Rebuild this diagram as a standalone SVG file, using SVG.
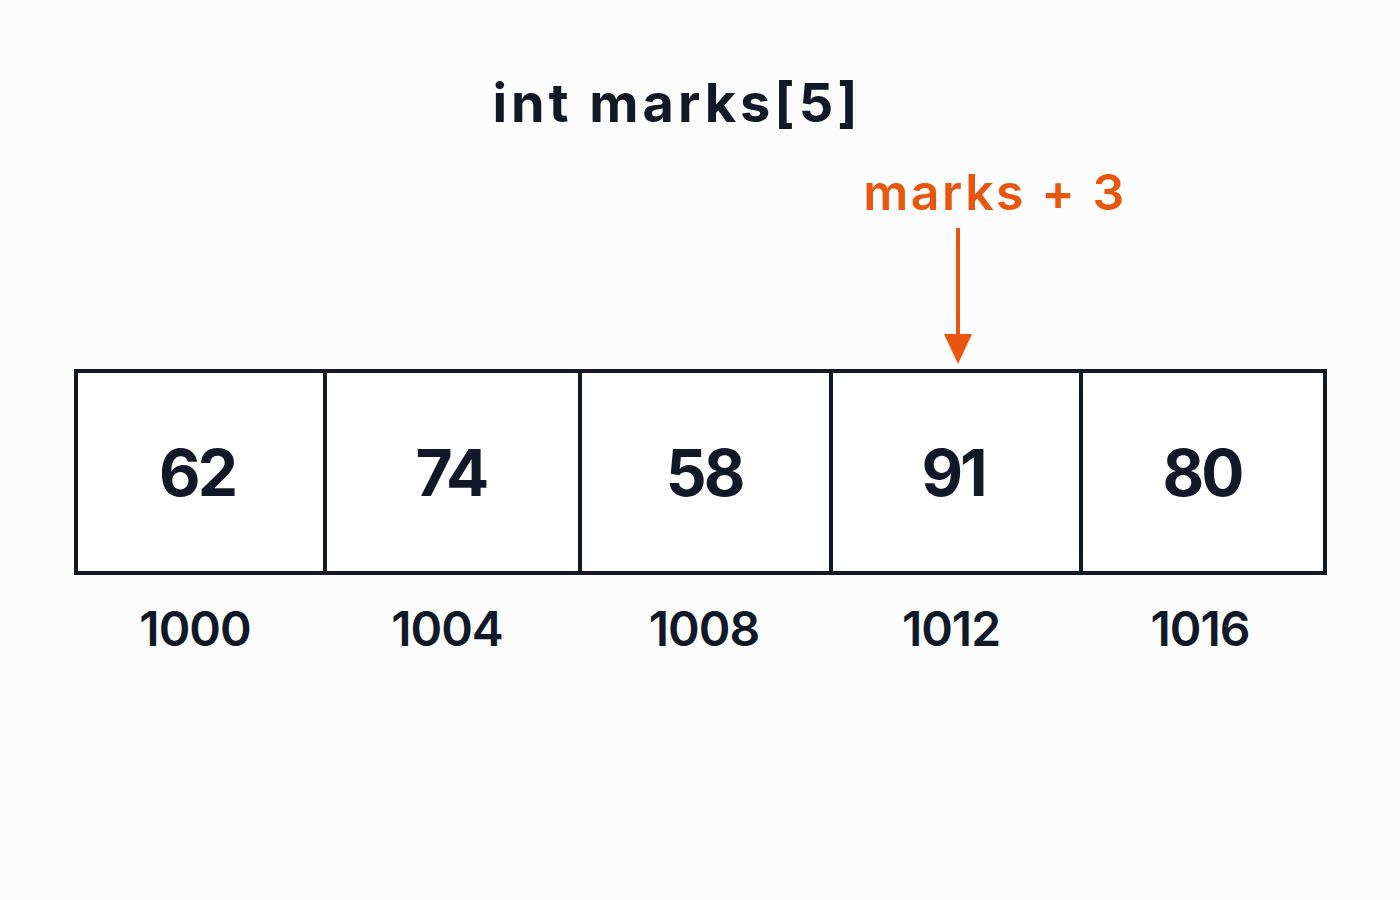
<svg xmlns="http://www.w3.org/2000/svg" width="1400" height="900" viewBox="0 0 1400 900">
<style>
.t{font-family:Inter,"Liberation Sans",sans-serif;fill:#111827;text-anchor:middle}
.title{font-size:54px;font-weight:700;letter-spacing:4px}
.val{font-size:64px;font-weight:700;letter-spacing:-3px}
.addr{font-size:48px;font-weight:600;letter-spacing:-1px}
.ptr{font-family:Inter,"Liberation Sans",sans-serif;fill:#E8560F;font-size:50px;font-weight:600;text-anchor:middle;letter-spacing:2.5px}
.cell{fill:#ffffff;stroke:#111827;stroke-width:4}
.arrow{stroke:#E8560F;stroke-width:4}
</style>
<rect width="1400" height="900" fill="#fcfcfc"/>
<text id="title" class="t title" x="677" y="122">int marks[5]</text>
<g id="cell0"><rect class="cell" x="76" y="371" width="249" height="202"/><text class="t val" x="197" y="496">62</text><text class="t addr" x="195" y="646">1000</text></g>
<g id="cell1"><rect class="cell" x="325" y="371" width="255" height="202"/><text class="t val" x="451" y="496">74</text><text class="t addr" x="447" y="646">1004</text></g>
<g id="cell2"><rect class="cell" x="580" y="371" width="251" height="202"/><text class="t val" x="704" y="496">58</text><text class="t addr" x="704" y="646">1008</text></g>
<g id="cell3"><rect class="cell" x="831" y="371" width="250" height="202"/><text class="t val" x="953" y="496">91</text><text class="t addr" x="951" y="646">1012</text></g>
<g id="cell4"><rect class="cell" x="1081" y="371" width="244" height="202"/><text class="t val" x="1202" y="496">80</text><text class="t addr" x="1200" y="646">1016</text></g>
<g id="pointer"><text class="ptr" x="995" y="210">marks + 3</text></g>
<g id="connectors">
<line class="arrow" x1="958" y1="228" x2="958" y2="340"/>
<polygon points="944,334 972,334 958,364" fill="#E8560F"/>
</g>
</svg>
